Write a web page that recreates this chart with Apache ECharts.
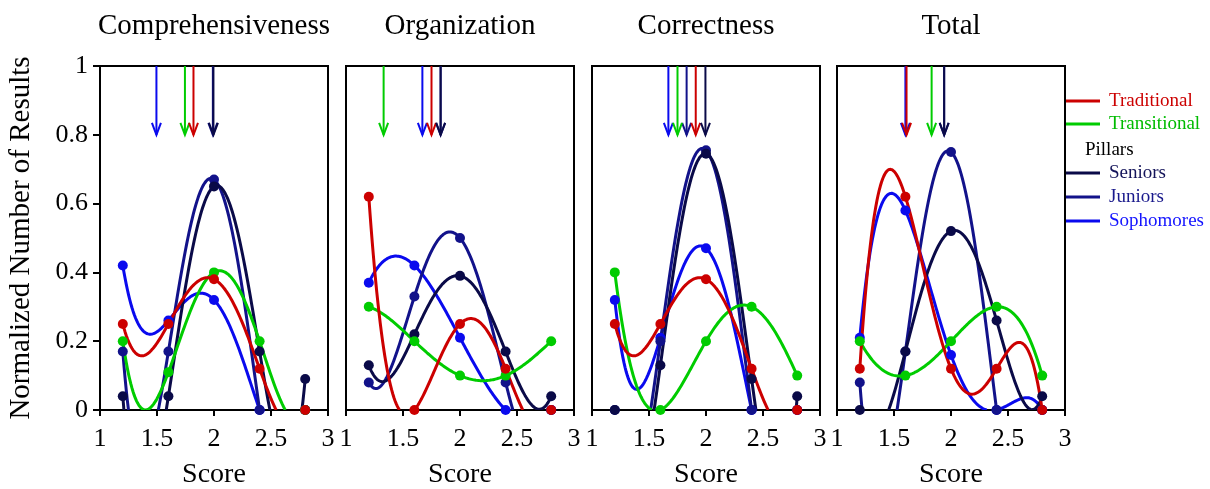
<!DOCTYPE html>
<html>
<head>
<meta charset="utf-8">
<script src="https://cdn.jsdelivr.net/npm/echarts@6/dist/echarts.min.js"></script>
<style>
html, body { margin: 0; padding: 0; background: #fff; }
#chart { width: 1210px; height: 489px; }
</style>
</head>
<body>
<div id="chart"></div>
<script>
// scores at which results were counted
const scores = [1.2, 1.6, 2.0, 2.4, 2.8];
const panelTitles = ['Comprehensiveness', 'Organization', 'Correctness', 'Total'];
const xTicks = [1, 1.5, 2, 2.5, 3];

// Comprehensiveness
const compTraditional  = [0.25, 0.25, 0.38, 0.12, 0];
const compTransitional = [0.20, 0.11, 0.40, 0.20, 0];
const compSeniors      = [0.04, 0.04, 0.65, 0.17, 0.09];
const compJuniors      = [0.17, 0.17, 0.67, 0, 0];
const compSophomores   = [0.42, 0.26, 0.32, 0, 0];
// Organization
const orgTraditional  = [0.62, 0, 0.25, 0.12, 0];
const orgTransitional = [0.30, 0.20, 0.10, 0.10, 0.20];
const orgSeniors      = [0.13, 0.22, 0.39, 0.17, 0.04];
const orgJuniors      = [0.08, 0.33, 0.50, 0.08, 0];
const orgSophomores   = [0.37, 0.42, 0.21, 0, 0];
// Correctness
const corTraditional  = [0.25, 0.25, 0.38, 0.12, 0];
const corTransitional = [0.40, 0, 0.20, 0.30, 0.10];
const corSeniors      = [0, 0.13, 0.745, 0.09, 0.04];
const corJuniors      = [0, 0.20, 0.755, 0, 0];
const corSophomores   = [0.32, 0.21, 0.47, 0, 0];
// Total
const totTraditional  = [0.12, 0.62, 0.12, 0.12, 0];
const totTransitional = [0.20, 0.10, 0.20, 0.30, 0.10];
const totSeniors      = [0, 0.17, 0.52, 0.26, 0.04];
const totJuniors      = [0.08, 0.17, 0.75, 0, 0];
const totSophomores   = [0.21, 0.58, 0.16, 0, 0];

// mean score arrows, order: traditional, transitional, seniors, juniors, sophomores
const compMeans = [1.82, 1.745, 1.995, 1.99, 1.495];
const orgMeans  = [1.75, 1.33, 1.83, 1.83, 1.67];
const corMeans  = [1.91, 1.75, 1.995, 1.83, 1.67];
const totMeans  = [1.61, 1.83, 1.94, 1.94, 1.60];

const groupNames  = ['Traditional', 'Transitional', 'Seniors', 'Juniors', 'Sophomores'];
const groupColors = ['#cc0000', '#00cc00', '#0a0a48', '#12128a', '#0a0aee'];
const drawOrder = [4, 3, 2, 1, 0];     // sophomores first, traditional on top
const arrowOrder = [3, 4, 1, 0, 2];

const panels = [
    [compTraditional, compTransitional, compSeniors, compJuniors, compSophomores],
    [orgTraditional, orgTransitional, orgSeniors, orgJuniors, orgSophomores],
    [corTraditional, corTransitional, corSeniors, corJuniors, corSophomores],
    [totTraditional, totTransitional, totSeniors, totJuniors, totSophomores]
];
const panelMeans = [compMeans, orgMeans, corMeans, totMeans];

const FONT = '"Liberation Serif", "Times New Roman", serif';
const gridLeft = [100, 346, 592, 837];
const gridW = 228, gridTop = 66, gridH = 344;

// 4th order trend line through the points
function trend(vals, x) {
    let s = 0;
    for (let i = 0; i < scores.length; i++) {
        let w = 1;
        for (let j = 0; j < scores.length; j++) {
            if (j !== i) w *= (x - scores[j]) / (scores[i] - scores[j]);
        }
        s += w * vals[i];
    }
    return s;
}

function trendRenderer(vals, color) {
    return function (params, api) {
        const i = params.dataIndex;
        if (i >= scores.length - 1) return null;
        const x0 = scores[i], x1 = scores[i + 1];
        const steps = 40;
        const runs = [];
        let run = [];
        let prev = null;
        for (let k = 0; k <= steps; k++) {
            const x = x0 + (x1 - x0) * k / steps;
            const y = trend(vals, x);
            const inside = y >= 0 && y <= 1;
            if (prev) {
                if (inside !== prev.inside) {
                    // crossing of the 0 or 1 edge
                    const edge = (inside ? prev.y : y) < 0 ? 0 : 1;
                    const f = (edge - prev.y) / (y - prev.y);
                    const cx = prev.x + (x - prev.x) * f;
                    run.push(api.coord([cx, edge]));
                    if (!inside) { runs.push(run); run = []; }
                }
            }
            if (inside) run.push(api.coord([x, y]));
            prev = { x: x, y: y, inside: inside };
        }
        if (run.length > 1) runs.push(run);
        return {
            type: 'group',
            children: runs.filter(r => r.length > 1).map(r => ({
                type: 'polyline',
                shape: { points: r },
                style: { stroke: color, lineWidth: 3, fill: null, lineJoin: 'round' }
            }))
        };
    };
}

function arrowRenderer(params, api) {
    const gi = api.value(1);
    const c = groupColors[gi];
    const top = api.coord([api.value(0), 1]);
    const tip = api.coord([api.value(0), 0.8]);
    return {
        type: 'group',
        children: [
            { type: 'line', shape: { x1: top[0], y1: top[1], x2: tip[0], y2: tip[1] }, style: { stroke: c, lineWidth: 2 } },
            { type: 'polyline', shape: { points: [[tip[0] - 4.5, tip[1] - 12], [tip[0], tip[1]], [tip[0] + 4.5, tip[1] - 12]] },
              style: { stroke: c, lineWidth: 2, fill: null } }
        ]
    };
}

const grids = [], xAxes = [], yAxes = [], series = [];
for (let p = 0; p < 4; p++) {
    grids.push({
        left: gridLeft[p], top: gridTop, width: gridW, height: gridH,
        show: true, borderColor: '#000', borderWidth: 2, backgroundColor: 'transparent',
        outerBoundsMode: 'none', containLabel: false
    });
    xAxes.push({
        gridIndex: p, type: 'value', min: 1, max: 3, interval: 0.5,
        name: 'Score', nameLocation: 'middle', nameGap: 51,
        nameTextStyle: { fontFamily: FONT, fontSize: 28, color: '#000' },
        axisLine: { show: true, onZero: false, lineStyle: { color: '#000', width: 2 } },
        axisTick: { show: true, inside: false, length: 6, lineStyle: { color: '#000', width: 2 } },
        axisLabel: { fontFamily: FONT, fontSize: 26, color: '#000', margin: 16,
                     formatter: v => xTicks.indexOf(v) >= 0 ? String(v) : '' },
        splitLine: { show: false }
    });
    yAxes.push({
        gridIndex: p, type: 'value', min: 0, max: 1, interval: 0.2,
        name: p === 0 ? 'Normalized Number of Results' : '',
        nameLocation: 'middle', nameGap: 64, nameRotate: 90,
        nameTextStyle: { fontFamily: FONT, fontSize: 29, color: '#000' },
        axisLine: { show: true, lineStyle: { color: '#000', width: 2 } },
        axisTick: { show: p === 0, inside: false, length: 7, lineStyle: { color: '#000', width: 2 } },
        axisLabel: { show: p === 0, fontFamily: FONT, fontSize: 26, color: '#000', margin: 12 },
        splitLine: { show: false }
    });

    // mean arrows
    series.push({
        type: 'custom', xAxisIndex: p, yAxisIndex: p, silent: true, animation: false,
        data: arrowOrder.map(g => [panelMeans[p][g], g]),
        renderItem: arrowRenderer
    });

    drawOrder.forEach(g => {
        const vals = panels[p][g];
        const pts = scores.map((x, i) => [x, vals[i]]);
        series.push({
            type: 'custom', name: groupNames[g], xAxisIndex: p, yAxisIndex: p,
            silent: true, animation: false, clip: true,
            data: pts,
            renderItem: trendRenderer(vals, groupColors[g])
        });
        series.push({
            type: 'scatter', name: groupNames[g], xAxisIndex: p, yAxisIndex: p,
            silent: true, animation: false, clip: false,
            symbol: 'circle', symbolSize: 10,
            itemStyle: { color: groupColors[g], opacity: 1 },
            data: pts
        });
    });
}

// titles and the hand-made legend
const graphics = [];
panelTitles.forEach((t, p) => {
    graphics.push({
        type: 'text', x: gridLeft[p] + gridW / 2, y: 26,
        style: { text: t, fontFamily: FONT, fontSize: 29, fill: '#000', textAlign: 'center', textVerticalAlign: 'middle' }
    });
});
const legendRows = [
    { g: 0, y: 101 }, { g: 1, y: 124 }, { label: 'Pillars', y: 150 },
    { g: 2, y: 173 }, { g: 3, y: 197 }, { g: 4, y: 221 }
];
const legendText = ['#cc0000', '#00bb00', '#14145a', '#1a1a8c', '#1414ff'];
legendRows.forEach(r => {
    if (r.label) {
        graphics.push({ type: 'text', x: 1085, y: r.y,
            style: { text: r.label, fontFamily: FONT, fontSize: 19, fill: '#000', textVerticalAlign: 'middle' } });
        return;
    }
    graphics.push({ type: 'line', shape: { x1: 1066, y1: r.y, x2: 1100, y2: r.y },
        style: { stroke: groupColors[r.g], lineWidth: 3 } });
    graphics.push({ type: 'text', x: 1109, y: r.y,
        style: { text: groupNames[r.g], fontFamily: FONT, fontSize: 19, fill: legendText[r.g], textVerticalAlign: 'middle' } });
});

const chart = echarts.init(document.getElementById('chart'), null, { renderer: 'canvas' });
chart.setOption({
    animation: false,
    backgroundColor: '#fff',
    grid: grids,
    xAxis: xAxes,
    yAxis: yAxes,
    series: series,
    graphic: graphics
});
</script>
</body>
</html>
